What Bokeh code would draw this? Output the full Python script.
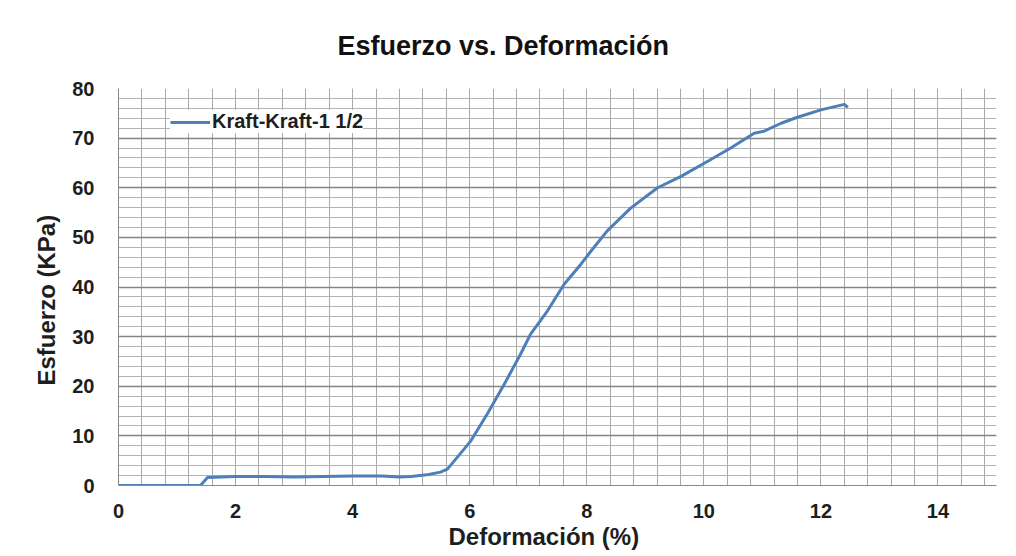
from bokeh.plotting import figure
from bokeh.models import (SingleIntervalTicker, Legend, LegendItem, Range1d, Title)
from bokeh.embed import file_html
from bokeh.resources import INLINE

# ---- data ----
strain = [0.0, 1.40, 1.52, 2.0, 2.5, 3.0, 3.5, 4.0, 4.5, 4.8, 5.0, 5.3, 5.5, 5.62,
          6.02, 6.30, 6.59, 6.87, 7.04, 7.33, 7.61, 7.90, 8.07, 8.35, 8.75, 9.21,
          9.61, 10.06, 10.46, 10.86, 11.03, 11.32, 11.60, 12.0, 12.40, 12.46]
stress = [0.0, 0.0, 1.6, 1.8, 1.8, 1.7, 1.8, 1.9, 1.9, 1.7, 1.8, 2.2, 2.7, 3.3,
          9.0, 14.4, 20.4, 26.5, 30.5, 35.2, 40.5, 44.6, 47.2, 51.3, 55.9, 60.0,
          62.3, 65.3, 68.0, 71.0, 71.4, 73.0, 74.2, 75.7, 76.8, 76.2]
series_name = "Kraft-Kraft-1 1/2"
title_text = "Esfuerzo vs. Deformación"
x_label = "Deformación (%)"
y_label = "Esfuerzo (KPa)"

FONT = "Liberation Sans"
TXT = "#1e1e1e"

p = figure(width=1000, height=550, output_backend="svg", toolbar_location=None,
           x_range=Range1d(0, 15), y_range=Range1d(0, 80),
           min_border_left=118, min_border_right=4, min_border_top=87,
           min_border_bottom=65)
p.outline_line_color = None
p.background_fill_color = "white"
p.border_fill_color = "white"

# axes
p.xaxis.ticker = SingleIntervalTicker(interval=2, num_minor_ticks=5)
p.yaxis.ticker = SingleIntervalTicker(interval=10, num_minor_ticks=5)
for ax in (p.xaxis[0], p.yaxis[0]):
    ax.major_tick_out = 0
    ax.major_tick_in = 0
    ax.minor_tick_out = 0
    ax.minor_tick_in = 0
    ax.axis_line_color = "#8a8a8a"
    ax.axis_line_width = 1
    ax.major_label_text_font = FONT
    ax.major_label_text_font_style = "bold"
    ax.major_label_text_font_size = "20px"
    ax.major_label_text_color = TXT
p.xaxis.major_label_standoff = 18
p.yaxis.major_label_standoff = 24

# grid
p.xgrid.grid_line_color = "#a8a8a8"
p.xgrid.minor_grid_line_color = "#a8a8a8"
p.ygrid.grid_line_color = "#858585"
p.ygrid.minor_grid_line_color = "#b4b4b4"
p.xgrid.grid_line_width = 1
p.ygrid.grid_line_width = 1.3

r = p.line(strain, stress, line_color="#4f7fb8", line_width=3)

legend = Legend(items=[LegendItem(label=series_name, renderers=[r])],
                location=(52, 352), border_line_color=None,
                background_fill_color="white", background_fill_alpha=1,
                label_text_font=FONT, label_text_font_style="bold",
                label_text_font_size="20px", label_text_color=TXT,
                glyph_width=40, label_standoff=2, padding=12, spacing=0)
p.add_layout(legend)

# chart title
p.title = Title(text=title_text, align="left", offset=219, standoff=56,
                text_font=FONT, text_font_style="bold", text_font_size="27px",
                text_color="#111111")
# axis titles
p.add_layout(Title(text=x_label, align="left", offset=330, standoff=0,
                   text_font=FONT, text_font_style="bold", text_font_size="24px",
                   text_color=TXT), "below")
p.add_layout(Title(text=y_label, align="left", offset=100, standoff=20,
                   text_font=FONT, text_font_style="bold", text_font_size="24px",
                   text_color=TXT), "left")

open("out.html", "w").write(file_html(p, INLINE))
